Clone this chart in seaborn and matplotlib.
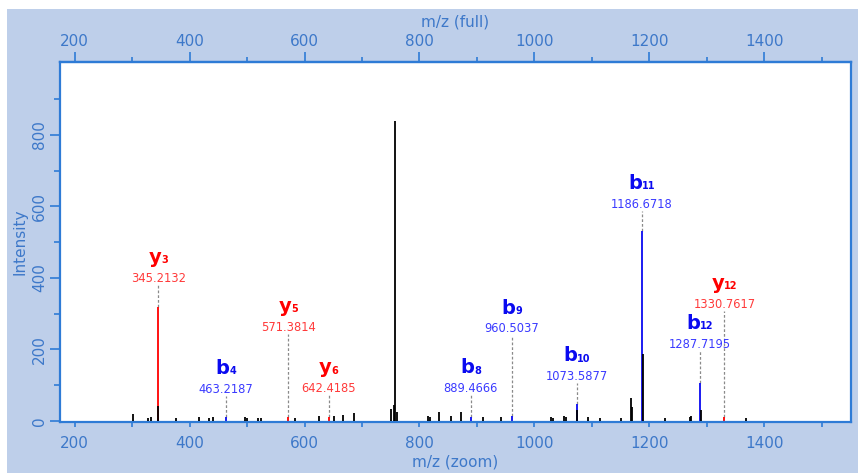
import matplotlib
matplotlib.use("Agg")
import matplotlib.pyplot as plt
from matplotlib.patches import Rectangle
from matplotlib.ticker import FixedLocator
import seaborn as sns

# Unassigned fragment peaks (m/z, intensity)
peak_mz = [302.0, 327.6, 332.0, 345.2, 376.0, 416.0, 434.0, 441.0, 497.0, 500.0,
           519.6, 524.0, 583.5, 626.0, 652.0, 667.6, 685.6, 750.8, 755.0, 758.0,
           760.5, 815.5, 818.0, 833.5, 854.3, 872.4, 911.0, 942.0, 1029.5, 1032.5,
           1052.0, 1054.5, 1073.6, 1093.5, 1113.5, 1150.0, 1167.8, 1170.6, 1188.6,
           1226.5, 1270.0, 1272.6, 1289.8, 1368.5]
peak_int = [20, 8, 10, 43, 7, 10, 8, 10, 10, 9,
            9, 7, 9, 13, 13, 17, 22, 34, 44, 839,
            24, 13, 11, 24, 15, 26, 11, 11, 10, 9,
            14, 11, 30, 11, 8, 8, 64, 39, 186,
            8, 11, 15, 31, 8]

# Assigned b / y ions
ion_names = ["y3", "b4", "y5", "y6", "b8", "b9", "b10", "b11", "b12", "y12"]
ion_mz = [345.2132, 463.2187, 571.3814, 642.4185, 889.4666, 960.5037,
          1073.5877, 1186.6718, 1287.7195, 1330.7617]
ion_int = [320, 10, 12, 10, 12, 15, 47, 530, 107, 10]
# Height where each label's leader line ends
label_level = [380, 70, 243, 72, 72, 239, 105, 588, 196, 308]

x_ticks = [200, 400, 600, 800, 1000, 1200, 1400]
x_minor = [300, 500, 700, 900, 1100, 1300, 1500]
y_ticks = [0, 200, 400, 600, 800]
y_minor = [100, 300, 500, 700, 900]

BG = "#BECFEA"
AXIS_BLUE = "#2E7BD6"
TEXT_BLUE = "#3D78C9"
ION_COLORS = {"b": "#0A0AF0", "y": "#FF0000"}
NUM_COLORS = {"b": "#3A3AFF", "y": "#FF3A3A"}

# Glyph advances (em) of DejaVu Sans Bold used to centre letter + index
LETTER_EM = {"b": 0.716, "y": 0.652}
DIGIT_EM = 0.696
LETTER_PT = 14
DIGIT_PT = 7

sns.set_theme(style="white")
plt.rcParams["font.family"] = ["DejaVu Sans"]

fig = plt.figure(figsize=(8.58, 4.73), dpi=100, facecolor="white")
fig.patches.append(Rectangle((7 / 858, 0), 1 - 7 / 858, 1 - 9 / 473,
                             transform=fig.transFigure, facecolor=BG,
                             edgecolor="none", zorder=-10))
ax = fig.add_axes([60 / 858, 1 - 421.7 / 473, (851 - 60) / 858, (421.7 - 62) / 473])
ax.set_facecolor("white")

# Leader lines from ion peak tops to their labels
ax.vlines(ion_mz, ion_int, label_level, colors="#8a8a8a", linestyles=(0, (2.2, 1.6)),
          linewidth=0.9, zorder=1)

# Assigned ion peaks in ion colour
ax.vlines(ion_mz, 0, ion_int, colors=[ION_COLORS[n[0]] for n in ion_names],
          linewidth=1.3, zorder=2)
# Unassigned peaks in black, on top
ax.vlines(peak_mz, 0, peak_int, colors="black", linewidth=1.3, zorder=3)

for name, mz, lvl in zip(ion_names, ion_mz, label_level):
    kind, num = name[0], name[1:]
    ax.annotate(f"{mz:.4f}", xy=(mz, lvl), xytext=(0, 2.3), textcoords="offset points",
                ha="center", va="baseline", fontsize=8.3, color=NUM_COLORS[kind])
    w_letter = LETTER_EM[kind] * LETTER_PT
    w_digits = DIGIT_EM * DIGIT_PT * len(num)
    left = -(w_letter + w_digits) / 2
    ax.annotate(kind, xy=(mz, lvl), xytext=(left, 15.8), textcoords="offset points",
                ha="left", va="baseline", fontsize=LETTER_PT, fontweight="bold",
                color=ION_COLORS[kind])
    ax.annotate(num, xy=(mz, lvl), xytext=(left + w_letter, 15.6),
                textcoords="offset points", ha="left", va="baseline",
                fontsize=DIGIT_PT, fontweight="bold", color=ION_COLORS[kind])

ax.set_xlim(174.5, 1551)
ax.set_ylim(-2, 1004)

for side in ["left", "bottom", "top", "right"]:
    ax.spines[side].set_color(AXIS_BLUE)
    ax.spines[side].set_linewidth(1.6)

ax.xaxis.set_major_locator(FixedLocator(x_ticks))
ax.xaxis.set_minor_locator(FixedLocator(x_minor))
ax.yaxis.set_major_locator(FixedLocator(y_ticks))
ax.yaxis.set_minor_locator(FixedLocator(y_minor))
ax.tick_params(axis="x", which="both", direction="out", length=3.5, width=1.2,
               color=AXIS_BLUE, labelcolor=TEXT_BLUE, labelsize=11, pad=6.5,
               bottom=True)
ax.tick_params(axis="y", which="major", direction="out", length=7, width=1.2,
               color=AXIS_BLUE, labelcolor=TEXT_BLUE, labelsize=11, pad=2.5,
               left=True, labelrotation=90)
ax.tick_params(axis="y", which="minor", direction="out", length=4.5, width=1.2,
               color=AXIS_BLUE, left=True)
for lab in ax.get_yticklabels():
    lab.set_verticalalignment("center")

ax.set_xlabel("m/z (zoom)", color=TEXT_BLUE, fontsize=11, labelpad=3)
ax.set_ylabel("Intensity", color=TEXT_BLUE, fontsize=11, labelpad=3)

top = ax.secondary_xaxis("top")
top.xaxis.set_major_locator(FixedLocator(x_ticks))
top.xaxis.set_minor_locator(FixedLocator(x_minor))
top.tick_params(axis="x", which="major", direction="out", length=7, width=1.2,
                color=AXIS_BLUE, labelcolor=TEXT_BLUE, labelsize=11, pad=2.5, top=True)
top.tick_params(axis="x", which="minor", direction="out", length=3.6, width=1.2,
                color=AXIS_BLUE, top=True)
top.spines["top"].set_color(AXIS_BLUE)
top.spines["top"].set_linewidth(1.6)
top.set_xlabel("m/z (full)", color=TEXT_BLUE, fontsize=11, labelpad=5)

fig.savefig("out.png", dpi=100, facecolor="white")
